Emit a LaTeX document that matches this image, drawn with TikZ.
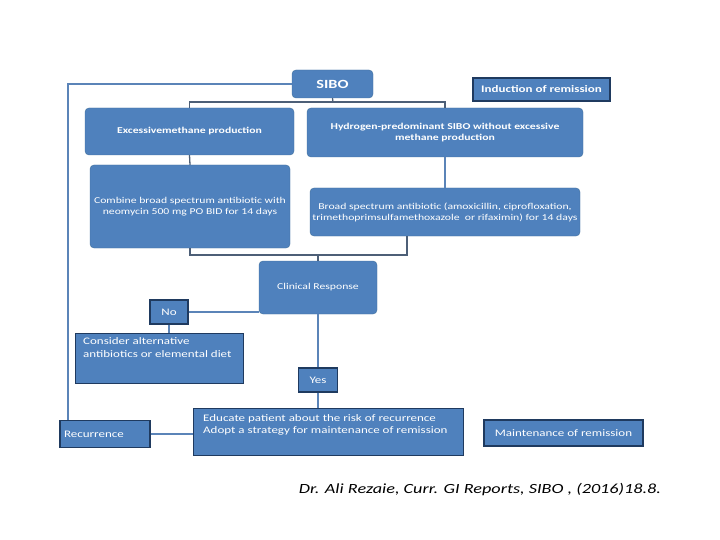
\documentclass[tikz,border=0pt]{standalone}
\usepackage{fontspec}
\setmainfont[FakeStretch=1.3]{Carlito}
\definecolor{boxblue}{HTML}{4F81BD}
\definecolor{boxedge}{HTML}{41719C}
\definecolor{darkedge}{HTML}{1F3A5F}
\definecolor{linkblue}{HTML}{5B84B8}
\definecolor{elbowgrey}{HTML}{4D5F77}
\tikzset{
  roundbox/.style={draw=boxedge, fill=boxblue, rounded corners=4pt, text=white,
    font=\fontsize{9}{11}\selectfont, align=center, inner sep=2pt},
  squarebox/.style={draw=darkedge, line width=1.4pt, fill=boxblue, text=white,
    font=\fontsize{10}{12}\selectfont, inner sep=2pt},
  boxtext/.style={anchor=north west, text=white, align=left, inner sep=0pt},
  link/.style={draw=linkblue, line width=2pt},
  elbow/.style={draw=elbowgrey, line width=1.3pt},
}
\begin{document}
\begin{tikzpicture}[x=1pt,y=-1pt]
    \useasboundingbox (0,0) rectangle (720,540);

    % Boites du haut
    \node[roundbox, minimum width=81pt, minimum height=28pt, font=\fontsize{12.5}{14}\selectfont\bfseries] (sibo) at (332.5,84) {SIBO};
    \node[squarebox, minimum width=137pt, minimum height=23pt, font=\fontsize{10}{12}\selectfont\bfseries] (induction) at (541.5,89.5) {Induction of remission};
    \node[roundbox, minimum width=209pt, minimum height=47pt, font=\fontsize{9}{11}\selectfont\bfseries] (methane) at (189.5,131.5) {Excessivemethane production};
    \node[roundbox, minimum width=276pt, minimum height=49pt, font=\fontsize{9}{11}\selectfont\bfseries] (hydrogen) at (445,132.5) {Hydrogen-predominant SIBO without excessive\\methane production};

    % Traitements
    \node[roundbox, minimum width=200pt, minimum height=83pt] (combine) at (190,206.5) {Combine broad spectrum antibiotic with\\neomycin 500 mg PO BID for 14 days};
    \node[roundbox, minimum width=270pt, minimum height=48pt] (broad) at (445,212) {Broad spectrum antibiotic (amoxicillin, ciprofloxation,\\trimethoprimsulfamethoxazole \ or rifaximin) for 14 days};
    \node[roundbox, minimum width=118pt, minimum height=53pt] (clinical) at (318,287.5) {Clinical Response};

    % Reponse
    \node[squarebox, minimum width=38pt, minimum height=24pt] (no) at (169,312) {No};
    \node[squarebox, minimum width=168pt, minimum height=50pt, anchor=north west] (consider) at (75,333) {};
    \node[boxtext, font=\fontsize{10}{13}\selectfont] (considertext) at (83,337) {Consider alternative\\antibiotics or elemental diet};
    \node[squarebox, minimum width=39pt, minimum height=24pt] (yes) at (318,380) {Yes};

    % Boites du bas
    \node[squarebox, minimum width=270pt, minimum height=47pt, anchor=north west] (educate) at (193,408) {};
    \node[boxtext, font=\fontsize{10}{12}\selectfont] (educatetext) at (203,414) {Educate patient about the risk of recurrence\\Adopt a strategy for maintenance of remission};
    \node[squarebox, minimum width=90pt, minimum height=27pt, text width=82pt, align=left] (recurrence) at (105,434) {Recurrence};
    \node[squarebox, minimum width=159pt, minimum height=26pt] (maintenance) at (563.5,433) {Maintenance of remission};

    % Citation
    \node[font=\fontsize{14}{16}\selectfont\itshape] (cite) at (480,490) {Dr. Ali Rezaie, Curr. GI Reports, SIBO , (2016)18.8.};

    % Connexions en coude
    \coordinate (topbus) at (333,102);
    \coordinate (midbus) at (318,255);
    \coordinate (broadfoot) at (407,236);
    \draw[elbow] (sibo.south) -- (topbus);
    \draw[elbow] (methane.north) |- (topbus) -| (hydrogen.north);
    \draw[elbow] (combine.south) |- (midbus) -| (broadfoot);
    \draw[elbow] (midbus) -- (clinical.north);
    \draw[elbow] (methane.south) -- (combine.north);

    % Connexions simples
    \coordinate (leftrail) at (68,84);
    \draw[link] (sibo.west) -- (leftrail) -- (leftrail |- recurrence.north);
    \draw[link] (hydrogen.south) -- (broad.north);
    \draw[link] (no.east) -- (no.east -| clinical.west);
    \draw[link] (no.south) -- (no.south |- consider.north);
    \draw[link] (clinical.south) -- (yes.north);
    \draw[link] (yes.south) -- (yes.south |- educate.north);
    \draw[link] (recurrence.east) -- (recurrence.east -| educate.west);
\end{tikzpicture}
\end{document}
